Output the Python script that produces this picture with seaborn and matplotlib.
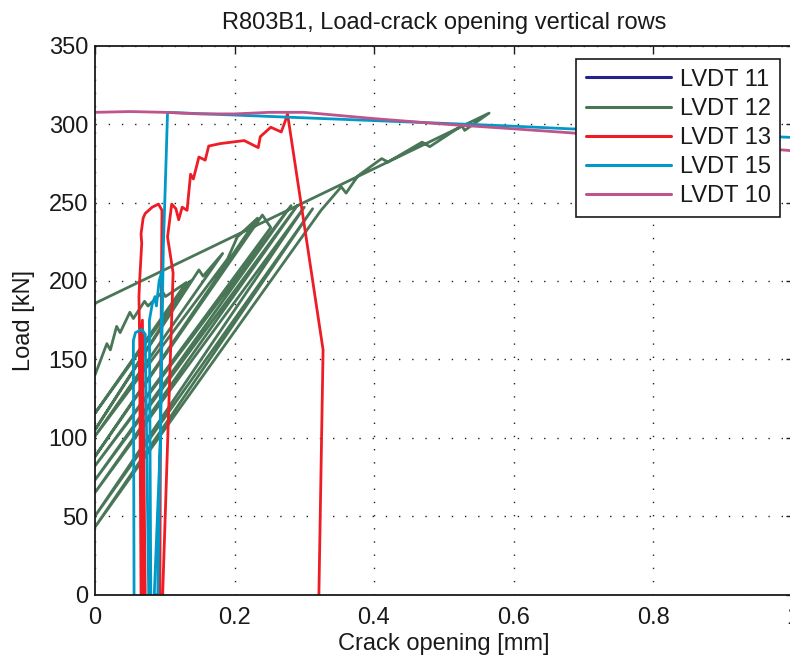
import matplotlib
matplotlib.use("Agg")
import matplotlib.pyplot as plt
import seaborn as sns
from matplotlib.lines import Line2D

# ---------------- data ----------------
labels = ["LVDT 11", "LVDT 12", "LVDT 13", "LVDT 15", "LVDT 10"]
colors = ["#23238c", "#4a7658", "#ee1c25", "#0099c8", "#be548c"]

x11 = []
y11 = []

x12 = [0.000, 0.017, 0.022, 0.031, 0.036, 0.050, 0.055, 0.071, 0.076, 0.097, 0.101, 0.131,
       0.000, 0.137, 0.000, 0.149, 0.155, 0.183, 0.000, 0.190, 0.204, 0.233, 0.000, 0.240,
       0.252, 0.000, 0.281, 0.000, 0.290, 0.000, 0.300, 0.000, 0.312, 0.000, 0.324, 0.353,
       0.360, 0.377, 0.411, 0.420, 0.469, 0.480, 0.526, 0.530, 0.565, 0.000]
y12 = [140, 160, 156, 171, 167, 180, 176, 187, 184, 193, 190, 199,
       115.6, 200, 105, 207, 203, 217.5, 101, 214, 228, 240, 88, 242,
       234, 82, 248, 73, 248, 65, 247, 50, 246, 43, 245, 260,
       256, 267, 278, 275.8, 288.5, 285.6, 299, 296, 307, 185.7]

x13 = [0.066, 0.064, 0.068, 0.072, 0.070, 0.063, 0.064, 0.067, 0.066, 0.069, 0.072, 0.082,
       0.091, 0.096, 0.094, 0.093, 0.097, 0.108, 0.112, 0.104, 0.110, 0.116, 0.120, 0.125,
       0.132, 0.137, 0.141, 0.149, 0.158, 0.163, 0.180, 0.214, 0.234, 0.237, 0.252, 0.267,
       0.272, 0.276, 0.327, 0.321]
y13 = [0, 150, 175, 0, 0, 190, 200, 224, 230, 240, 243, 247,
       249, 245, 120, 0, 0, 150, 205, 228, 249, 246, 239, 247,
       245, 268, 265, 279, 277, 286, 287.6, 289.5, 285, 292, 298, 295,
       301, 306.6, 156, 0]

x15 = [0.056, 0.055, 0.058, 0.067, 0.072, 0.077, 0.080, 0.078, 0.082, 0.086, 0.088, 0.092,
       0.096, 0.094, 0.085, 0.090, 0.098, 0.101, 0.104, 0.300, 0.584, 0.680, 1.000]
y15 = [0, 162, 167, 169, 166, 0, 0, 175, 185, 190, 184, 200,
       206, 100, 0, 0, 222, 264, 307.5, 304, 299, 297, 291.5]

x10 = [0.00, 0.05, 0.10, 0.15, 0.20, 0.25, 0.30, 0.35, 0.40, 0.50, 0.60, 0.68, 1.00]
y10 = [307.5, 308, 307.5, 306.5, 306.5, 307.5, 307.5, 305.5, 303.5, 300, 297, 294.5, 283]

x_ticks = [0, 0.2, 0.4, 0.6, 0.8, 1]
x_tick_labels = ["0", "0.2", "0.4", "0.6", "0.8", "1"]
y_ticks = [0, 50, 100, 150, 200, 250, 300, 350]

# ---------------- style ----------------
sns.set_theme(style="white")
plt.rcParams["font.family"] = ["Liberation Sans", "DejaVu Sans"]
plt.rcParams["font.size"] = 17
FS = 17

fig = plt.figure(figsize=(7.9, 6.64), dpi=100)
ax = fig.add_axes([95 / 790, (664 - 594.5) / 664, 697.5 / 790, 548.8 / 664])

series = [(x11, y11), (x12, y12), (x13, y13), (x15, y15), (x10, y10)]
for (xs, ys), lab, col in zip(series, labels, colors):
    if len(xs) > 0:
        sns.lineplot(x=xs, y=ys, sort=False, estimator=None, color=col,
                     linewidth=2.0, ax=ax, legend=False)

ax.set_xlim(0, 1)
ax.set_ylim(0, 350)
ax.set_xticks(x_ticks)
ax.set_xticklabels(x_tick_labels)
ax.set_yticks(y_ticks)

ax.grid(True, color="#222222", linewidth=1.0, linestyle=(0, (1, 8.5)))
for s in ax.spines.values():
    s.set_color("#1a1a1a")
    s.set_linewidth(1.3)
    s.set_visible(True)

ax.tick_params(axis="both", direction="in", length=5, width=1, colors="#1a1a1a",
               top=True, right=True, labelsize=FS, labelcolor="#1a1a1a")
ax.tick_params(axis="x", pad=9)
ax.tick_params(axis="y", pad=5)

ax.set_title("R803B1, Load-crack opening vertical rows", fontsize=FS, pad=12,
             color="#1a1a1a")
ax.set_xlabel("Crack opening [mm]", fontsize=FS, labelpad=3, color="#1a1a1a")
ax.set_ylabel("Load [kN]", fontsize=FS, labelpad=10, color="#1a1a1a")

handles = [Line2D([], [], color=c, linewidth=2.2) for c in colors]
leg = ax.legend(handles, labels, loc="upper right",
                bbox_to_anchor=((780 - 95) / 697.5, (594.5 - 59.3) / 548.8),
                borderaxespad=0, fontsize=FS, handlelength=3.6, handletextpad=0.38,
                labelspacing=0.3, borderpad=0.4, fancybox=False, framealpha=1,
                edgecolor="#1a1a1a")
leg.get_frame().set_linewidth(1.2)
for t in leg.get_texts():
    t.set_color("#1a1a1a")

fig.savefig("out.png", dpi=100)
